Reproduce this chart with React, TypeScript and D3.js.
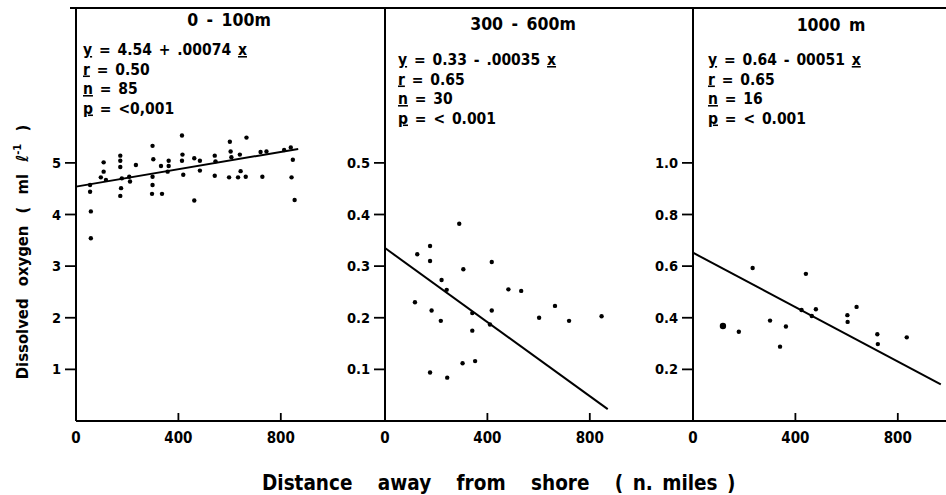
import React from "react";
import * as d3 from "d3";

// ---------- data ----------
const P1_DIST = [55, 55, 58, 58, 97, 108, 108, 117, 173, 173, 173, 179, 176, 173, 208, 211, 234, 299, 302, 299, 299, 297, 336, 332, 362, 362, 358, 414, 416, 414, 419, 462, 462, 484, 484, 542, 545, 542, 601, 604, 607, 598, 633, 643, 640, 666, 663, 721, 744, 728, 813, 839, 847, 842, 854];
const P1_OXY = [4.57, 4.44, 4.06, 3.54, 4.72, 4.83, 5.01, 4.67, 5.14, 5.04, 4.92, 4.70, 4.51, 4.36, 4.73, 4.64, 4.96, 5.33, 5.07, 4.73, 4.57, 4.40, 4.40, 4.94, 5.04, 4.94, 4.83, 5.53, 5.16, 5.04, 4.77, 5.09, 4.27, 5.04, 4.85, 5.14, 5.03, 4.75, 5.41, 5.22, 5.11, 4.72, 4.72, 4.84, 5.16, 5.49, 4.73, 5.21, 5.22, 4.73, 5.25, 5.30, 5.06, 4.72, 4.28];

const P2_DIST = [290, 176, 126, 176, 306, 417, 221, 241, 117, 182, 218, 341, 417, 410, 341, 303, 352, 176, 243, 482, 532, 664, 719, 602, 846];
const P2_OXY = [0.382, 0.339, 0.323, 0.310, 0.294, 0.308, 0.273, 0.254, 0.230, 0.214, 0.194, 0.209, 0.214, 0.187, 0.175, 0.112, 0.116, 0.094, 0.084, 0.255, 0.252, 0.223, 0.194, 0.200, 0.203];

const P3_DIST = [233, 441, 117, 179, 301, 363, 340, 424, 480, 464, 603, 604, 639, 720, 722, 835];
const P3_OXY = [0.593, 0.570, 0.368, 0.346, 0.389, 0.366, 0.288, 0.430, 0.433, 0.407, 0.410, 0.384, 0.442, 0.336, 0.298, 0.324];

const LINE_1: [number, number][] = [[0, 4.54], [868, 5.27]];
const LINE_2: [number, number][] = [[0, 0.335], [870, 0.023]];
const LINE_3: [number, number][] = [[0, 0.652], [968, 0.142]];

const PANEL_TITLES = ["0 - 100m", "300 - 600m", "1000 m"];
const EQUATIONS = ["= 4.54 + .00074", "= 0.33 - .00035", "= 0.64 - 00051"];
const R_VALUES = ["= 0.50", "= 0.65", "= 0.65"];
const N_VALUES = ["= 85", "= 30", "= 16"];
const P_VALUES = ["= <0,001", "= < 0.001", "= < 0.001"];

const Y1_TICKS = [1, 2, 3, 4, 5];
const Y1_LABELS = ["1", "2", "3", "4", "5"];
const Y2_TICKS = [0.1, 0.2, 0.3, 0.4, 0.5];
const Y2_LABELS = ["0.1", "0.2", "0.3", "0.4", "0.5"];
const Y3_TICKS = [0.2, 0.4, 0.6, 0.8, 1.0];
const Y3_LABELS = ["0.2", "0.4", "0.6", "0.8", "1.0"];
const X_TICKS = [0, 400, 800];
const X_LABELS = ["0", "400", "800"];
const Y_MAX = [8, 0.8, 1.6];

// ---------- layout ----------
const W = 946;
const H = 495;
const TOP = 8;
const BOTTOM = 421;
const PX_PER_1000 = 256;
const PANEL_LEFT = [76, 385, 693];
const TITLE_X = [229, 523, 831];
const TITLE_Y = [26, 30, 31];
const STATS_X = [83, 398, 708];
const STATS_Y = [55, 65, 65];
const STATS_DY = 19.5;
const FONT = "'DejaVu Sans Condensed', 'Liberation Sans Narrow', 'DejaVu Sans', sans-serif";

const PANELS = [
  { dist: P1_DIST, oxy: P1_OXY, line: LINE_1, ticks: Y1_TICKS, labels: Y1_LABELS, big: [] as number[] },
  { dist: P2_DIST, oxy: P2_OXY, line: LINE_2, ticks: Y2_TICKS, labels: Y2_LABELS, big: [] as number[] },
  { dist: P3_DIST, oxy: P3_OXY, line: LINE_3, ticks: Y3_TICKS, labels: Y3_LABELS, big: [2] },
];

const U = ({ children }: { children: React.ReactNode }) => (
  <tspan style={{ textDecoration: "underline" }}>{children}</tspan>
);

export default function App() {
  return (
    <svg
      width={W}
      height={H}
      viewBox={`0 0 ${W} ${H}`}
      style={{ position: "absolute", left: 0, top: 0, background: "#fff" }}
      fontFamily={FONT}
      fontWeight="bold"
    >
      <rect width={W} height={H} fill="#fff" />
      {/* frame: top and bottom lines */}
      <line x1={70} x2={W} y1={TOP} y2={TOP} stroke="#000" strokeWidth={2} />
      <line x1={PANEL_LEFT[0]} x2={W} y1={BOTTOM} y2={BOTTOM} stroke="#000" strokeWidth={2.2} />

      {PANELS.map((p, i) => {
        const left = PANEL_LEFT[i];
        const x = d3.scaleLinear().domain([0, 1000]).range([left, left + PX_PER_1000]);
        const y = d3.scaleLinear().domain([0, Y_MAX[i]]).range([BOTTOM, TOP]);
        const lineGen = d3
          .line<[number, number]>()
          .x((d) => x(d[0]))
          .y((d) => y(d[1]));
        return (
          <g key={i}>
            {/* left axis */}
            <line x1={left} x2={left} y1={TOP} y2={BOTTOM} stroke="#000" strokeWidth={2} />
            {/* y ticks */}
            {p.ticks.map((t, j) => (
              <g key={j}>
                <line x1={left - 11} x2={left} y1={y(t)} y2={y(t)} stroke="#000" strokeWidth={1.8} />
                <text x={left - 15} y={y(t) + 5} textAnchor="end" fontSize={14.5}>
                  {p.labels[j]}
                </text>
              </g>
            ))}
            {/* x ticks */}
            {X_TICKS.map((t, j) => (
              <g key={j}>
                {t > 0 && (
                  <line x1={x(t)} x2={x(t)} y1={BOTTOM} y2={BOTTOM - 8} stroke="#000" strokeWidth={1.8} />
                )}
                <text x={x(t)} y={443} textAnchor="middle" fontSize={15}>
                  {X_LABELS[j]}
                </text>
              </g>
            ))}
            {/* title */}
            <text x={TITLE_X[i]} y={TITLE_Y[i]} textAnchor="middle" fontSize={17.5} wordSpacing={3}>
              {PANEL_TITLES[i]}
            </text>
            {/* stats */}
            <g fontSize={15.5} wordSpacing={2}>
              <text x={STATS_X[i]} y={STATS_Y[i]}>
                <U>y</U> {EQUATIONS[i]} <U>x</U>
              </text>
              <text x={STATS_X[i]} y={STATS_Y[i] + STATS_DY}>
                <U>r</U> {R_VALUES[i]}
              </text>
              <text x={STATS_X[i]} y={STATS_Y[i] + 2 * STATS_DY}>
                <U>n</U> {N_VALUES[i]}
              </text>
              <text x={STATS_X[i]} y={STATS_Y[i] + 3 * STATS_DY}>
                <U>p</U> {P_VALUES[i]}
              </text>
            </g>
            {/* regression line */}
            <path d={lineGen(p.line) || ""} stroke="#000" strokeWidth={2} fill="none" />
            {/* points */}
            {p.dist.map((d, j) => (
              <circle key={j} cx={x(d)} cy={y(p.oxy[j])} r={p.big.includes(j) ? 3.2 : 2.2} fill="#000" />
            ))}
          </g>
        );
      })}

      {/* y axis title */}
      <text
        transform="translate(28,252) rotate(-90)"
        textAnchor="middle"
        fontSize={16.5}
        wordSpacing={7}
      >
        Dissolved oxygen ( ml ℓ<tspan dy={-7} fontSize={11}>-1</tspan>
        <tspan dy={7}> )</tspan>
      </text>

      {/* x axis title */}
      <text x={262} y={490} fontSize={20.5}>
        <tspan wordSpacing={19}>Distance away from shore (</tspan>
        <tspan wordSpacing={3}> n. miles )</tspan>
      </text>
    </svg>
  );
}
